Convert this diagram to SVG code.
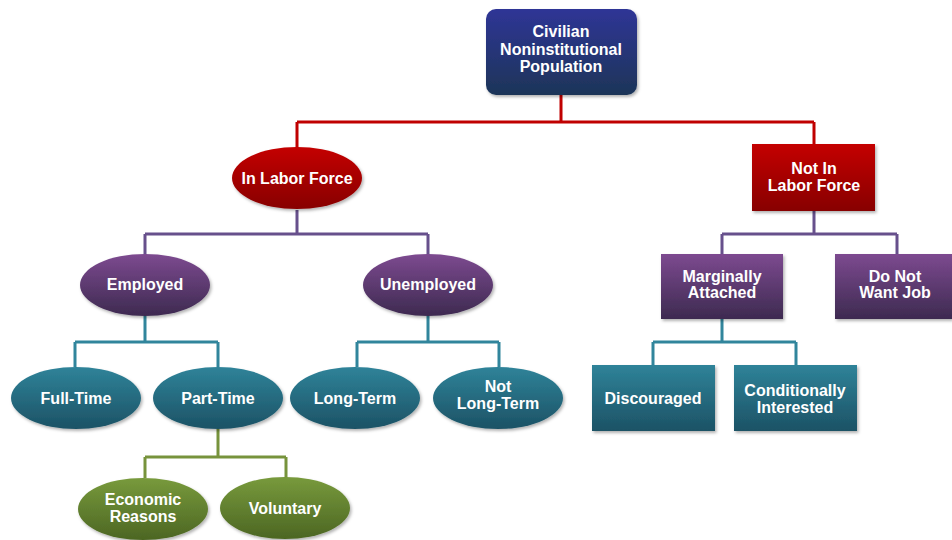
<svg xmlns="http://www.w3.org/2000/svg" width="952" height="540" viewBox="0 0 952 540">
<defs>
<linearGradient id="gNavy" x1="0" y1="0" x2="0" y2="1"><stop offset="0" stop-color="#2F3596"/><stop offset="1" stop-color="#1D3558"/></linearGradient>
<linearGradient id="gRed" x1="0" y1="0" x2="0" y2="1"><stop offset="0" stop-color="#C40000"/><stop offset="1" stop-color="#870000"/></linearGradient>
<linearGradient id="gPurple" x1="0" y1="0" x2="0" y2="1"><stop offset="0" stop-color="#7D4A90"/><stop offset="1" stop-color="#3D2A50"/></linearGradient>
<linearGradient id="gTeal" x1="0" y1="0" x2="0" y2="1"><stop offset="0" stop-color="#2F8399"/><stop offset="1" stop-color="#1C5265"/></linearGradient>
<linearGradient id="gGreen" x1="0" y1="0" x2="0" y2="1"><stop offset="0" stop-color="#789A3C"/><stop offset="1" stop-color="#4C6623"/></linearGradient>
<filter id="sh" x="-10%" y="-10%" width="125%" height="130%"><feDropShadow dx="1.5" dy="2" stdDeviation="1.5" flood-color="#000" flood-opacity="0.3"/></filter>
</defs>
<style>
text{font-family:"Liberation Sans",Arial,sans-serif;font-weight:bold;font-size:16px;fill:#fff;text-anchor:middle}
.c{fill:none;stroke-width:3}
.red{stroke:#C00000}
.pur{stroke:#67508C}
.teal{stroke:#31859C}
.grn{stroke:#77933C}
</style>
<rect width="952" height="540" fill="#fff"/>
<g id="connectors">
<path class="c red" d="M561 95V122M297 122H814M297 122V148M814 122V145"/>
<path class="c pur" d="M297 210V234M145 234H428M145 234V255M428 234V255"/>
<path class="c pur" d="M814 211V234M722 234H897M722 234V255M897 234V255"/>
<path class="c teal" d="M145 316V342M75 342H218M75 342V367M218 342V367"/>
<path class="c teal" d="M428 316V342M357 342H499M357 342V367M499 342V367"/>
<path class="c teal" d="M722 319V342M653 342H796M653 342V366M796 342V366"/>
<path class="c grn" d="M218 429V457M145 457H286M145 457V478M286 457V478"/>
</g>
<g id="civilian"><rect x="486" y="9" width="151" height="86" rx="10" fill="url(#gNavy)" filter="url(#sh)"/><text x="561" y="37">Civilian</text><text x="561" y="55">Noninstitutional</text><text x="561" y="72">Population</text></g>
<g id="inlabor"><ellipse cx="297" cy="178" rx="65" ry="31" fill="url(#gRed)" filter="url(#sh)"/><text x="297" y="184">In Labor Force</text></g>
<g id="notinlabor"><rect x="752" y="144" width="123" height="67" fill="url(#gRed)" filter="url(#sh)"/><text x="814" y="174">Not In</text><text x="814" y="191">Labor Force</text></g>
<g id="employed"><ellipse cx="145" cy="285" rx="65" ry="31" fill="url(#gPurple)" filter="url(#sh)"/><text x="145" y="290">Employed</text></g>
<g id="unemployed"><ellipse cx="428" cy="285" rx="65" ry="31" fill="url(#gPurple)" filter="url(#sh)"/><text x="428" y="290">Unemployed</text></g>
<g id="marginal"><rect x="661" y="254" width="122" height="65" fill="url(#gPurple)" filter="url(#sh)"/><text x="722" y="282">Marginally</text><text x="722" y="298">Attached</text></g>
<g id="donot"><rect x="835" y="254" width="117" height="65" fill="url(#gPurple)" filter="url(#sh)"/><text x="895" y="282">Do Not</text><text x="895" y="298">Want Job</text></g>
<g id="fulltime"><ellipse cx="76" cy="398" rx="65" ry="31" fill="url(#gTeal)" filter="url(#sh)"/><text x="76" y="404">Full-Time</text></g>
<g id="parttime"><ellipse cx="218" cy="398" rx="65" ry="31" fill="url(#gTeal)" filter="url(#sh)"/><text x="218" y="404">Part-Time</text></g>
<g id="longterm"><ellipse cx="355" cy="398" rx="65" ry="31" fill="url(#gTeal)" filter="url(#sh)"/><text x="355" y="404">Long-Term</text></g>
<g id="notlongterm"><ellipse cx="498" cy="398" rx="65" ry="31" fill="url(#gTeal)" filter="url(#sh)"/><text x="498" y="392">Not</text><text x="498" y="409">Long-Term</text></g>
<g id="discouraged"><rect x="592" y="365" width="123" height="66" fill="url(#gTeal)" filter="url(#sh)"/><text x="653" y="404">Discouraged</text></g>
<g id="conditionally"><rect x="734" y="365" width="123" height="66" fill="url(#gTeal)" filter="url(#sh)"/><text x="795" y="396">Conditionally</text><text x="795" y="413">Interested</text></g>
<g id="economic"><ellipse cx="143" cy="509" rx="65" ry="31" fill="url(#gGreen)" filter="url(#sh)"/><text x="143" y="505">Economic</text><text x="143" y="522">Reasons</text></g>
<g id="voluntary"><ellipse cx="285" cy="508" rx="65" ry="31" fill="url(#gGreen)" filter="url(#sh)"/><text x="285" y="514">Voluntary</text></g>
</svg>
